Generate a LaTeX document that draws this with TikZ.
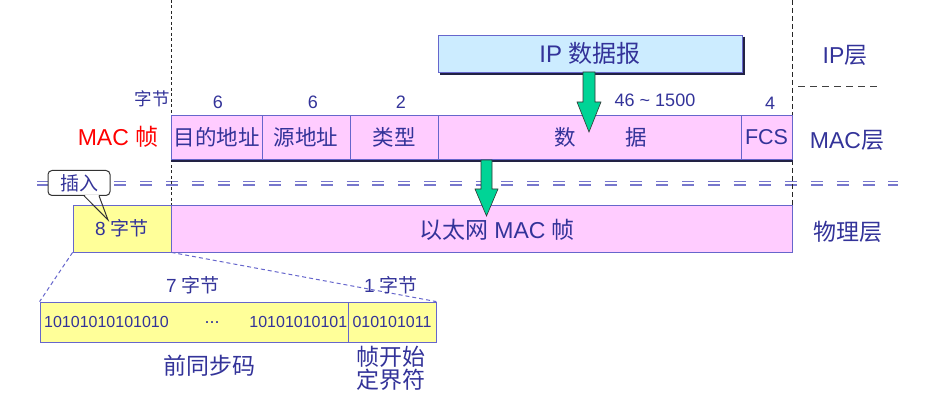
\documentclass[tikz,border=0pt]{standalone}
\usepackage{fontspec}
\setmainfont{Liberation Sans}
\newfontfamily\zhfont{Noto Sans CJK SC}
\newcommand\zh[1]{{\zhfont #1}}
\usetikzlibrary{calc}
\definecolor{txt}{RGB}{51,51,153}
\definecolor{pinkf}{RGB}{255,204,255}
\definecolor{bord}{RGB}{102,102,204}
\definecolor{bluef}{RGB}{204,236,255}
\definecolor{yell}{RGB}{255,255,153}
\definecolor{grn}{RGB}{0,212,150}
\definecolor{dashc}{RGB}{119,119,204}
\definecolor{shadowc}{RGB}{34,34,68}
\definecolor{calloutc}{RGB}{51,51,51}
\newcommand\fs[1]{\fontsize{#1}{#1}\selectfont}
\begin{document}
\begin{tikzpicture}[x=1pt,y=-1pt,
  field/.style={draw=bord, line width=0.8pt, inner sep=0, minimum height=44, text=txt, font=\fs{21.5}},
  lbl/.style={text=txt, inner sep=0},
  bignum/.style={lbl, font=\fs{18}},
  layer/.style={lbl, font=\fs{23}},
  greenarrow/.style={fill=grn, draw=black!80, line width=0.6pt, line join=miter},
  vdash/.style={black!85, line width=0.8pt},
  dblline/.style={dashc, line width=1.8pt, dash pattern=on 12pt off 13.8pt},
  linkdash/.style={bord, line width=1pt, dash pattern=on 4pt off 3pt},
  bits/.style={lbl, font=\fs{16}}
]
\useasboundingbox (0,0) rectangle (940,411);

% double dashed separator
\coordinate (sepl) at (37,181.5);
\coordinate (sepr) at (898,181.5);
\draw[dblline] (sepl) -- (sepr);
\draw[dblline] ($(sepl)+(0,3.6)$) -- ($(sepr)+(0,3.6)$);

% vertical dashed boundaries
\coordinate (vl1) at (171,0);
\coordinate (vl2) at (171,205);
\coordinate (vr1) at (792,0);
\coordinate (vr2) at (792,205);
\draw[vdash, dash pattern=on 3pt off 2.5pt] (vl1) -- (vl2);
\draw[vdash, dash pattern=on 5pt off 3pt] (vr1) -- (vr2);

% IP datagram
\node[draw=bord, line width=0.8pt, fill=bluef, minimum width=304, minimum height=37, inner sep=0, text=txt, font=\fs{24}] (ip) at (590,53.5) {IP \zh{数据报}};
\draw[shadowc, line width=2pt] ($(ip.north east)+(1.5,2)$) -- ($(ip.south east)+(1.5,1.5)$) -- ($(ip.south west)+(2,1.5)$);

% layer labels
\node[layer] (lip) at (845,55) {IP\zh{层}};
\coordinate (ipd1) at (798,87);
\coordinate (ipd2) at (877,87);
\draw[black!75, line width=1pt, dash pattern=on 7pt off 5pt] (ipd1) -- (ipd2);
\node[layer] (lmac) at (847,140) {MAC\zh{层}};
\node[layer] (lphy) at (848,232) {\zh{物理层}};

% MAC frame
\node[field, fill=pinkf, minimum width=91] (dst) at (216.5,137) {\zhfont 目的地址};
\node[field, fill=pinkf, minimum width=88] (src) at (306,137) {\zhfont 源地址};
\node[field, fill=pinkf, minimum width=88] (typ) at (394,137) {\zhfont 类型};
\node[field, fill=pinkf, minimum width=303] (dat) at (589.5,137) {};
\node[field, fill=pinkf, minimum width=51] (fcs) at (766.5,137) {FCS};
\node[lbl, font=\fs{21.5}\zhfont] (datt) at (600.5,137) {数\hspace{50pt}据};
\draw[shadowc, line width=2pt] ($(dst.south west)+(0.5,1.5)$) -- ($(fcs.south east)+(1,1.5)$);

\node[lbl, text=red, font=\fs{23}] (macl) at (118,137) {MAC \zh{帧}};
\node[lbl, font=\fs{17.5}\zhfont] (bytes) at (152,99) {字节};
\node[bignum] (n1) at (218,102) {6};
\node[bignum] (n2) at (313,102) {6};
\node[bignum] (n3) at (401,102) {2};
\node[bignum] (n4) at (655,100) {46 \textasciitilde{} 1500};
\node[bignum] (n5) at (770,103) {4};

% physical frame
\node[draw=bord, line width=0.8pt, fill=yell, minimum width=98, minimum height=47, inner sep=0, text=txt, font=\fs{19}] (pre) at (122,228.5) {8 \zh{字节}};
\node[draw=bord, line width=0.8pt, fill=pinkf, minimum width=621, minimum height=47, inner sep=0] (eth) at (481.5,228.5) {};
\node[lbl, font=\fs{23}] (etht) at (497,230) {\zh{以太网} MAC \zh{帧}};

% green arrows
\coordinate (a1) at (589,72);
\path[greenarrow] (a1) ++(-6,0) -- ++(12,0) -- (595,102) -- (601,102) -- (589,132) -- (577,102) -- (583,102) -- cycle;
\coordinate (a2) at (486.5,160);
\path[greenarrow] (a2) ++(-5.5,0) -- ++(11,0) -- (492,189) -- (498,189) -- (486.5,216) -- (475,189) -- (481,189) -- cycle;

% callout
\node[draw=calloutc, line width=1pt, fill=white, rounded corners=4pt, minimum width=62, minimum height=25, inner sep=0, text=txt, font=\fs{19}\zhfont] (ins) at (79,183) {插入};
\coordinate (instip) at (108,220);
\begin{scope}
\clip (0,0) rectangle (940,205);
\fill[white] ($(ins.south)+(5.5,-1.2)$) -- (instip) -- ($(ins.south)+(19.5,-1.2)$) -- cycle;
\end{scope}
\draw[calloutc, line width=1pt, line join=miter] ($(ins.south)+(5,-0.3)$) -- (instip) -- ($(ins.south)+(20,-0.3)$);

% preamble detail
\node[draw=bord, line width=0.8pt, fill=yell, minimum width=308, minimum height=40, inner sep=0] (pre7) at (194,322) {};
\node[draw=bord, line width=0.8pt, fill=yell, minimum width=88, minimum height=40, inner sep=0, text=txt, font=\fs{16}] (sfd) at (392,322) {010101011};
\node[bits, anchor=west] (b1) at (44,322) {10101010101010};
\node[bits, font=\fs{18}] (b2) at (212,323) {...};
\node[bits, anchor=east] (b3) at (347.5,322) {10101010101};
\draw[linkdash] (pre.south west) -- (pre7.north west);
\draw[linkdash] (pre.south east) -- (sfd.north east);

\node[lbl, font=\fs{19}] (s7) at (193,285) {7 \zh{字节}};
\node[lbl, font=\fs{19}] (s1) at (391,285) {1 \zh{字节}};
\node[lbl, font=\fs{23}\zhfont] (pname) at (209,366) {前同步码};
\node[lbl, font=\fontsize{23}{23}\selectfont\zhfont, align=center] (sname) at (391,368.5) {帧开始\\定界符};
\end{tikzpicture}
\end{document}
